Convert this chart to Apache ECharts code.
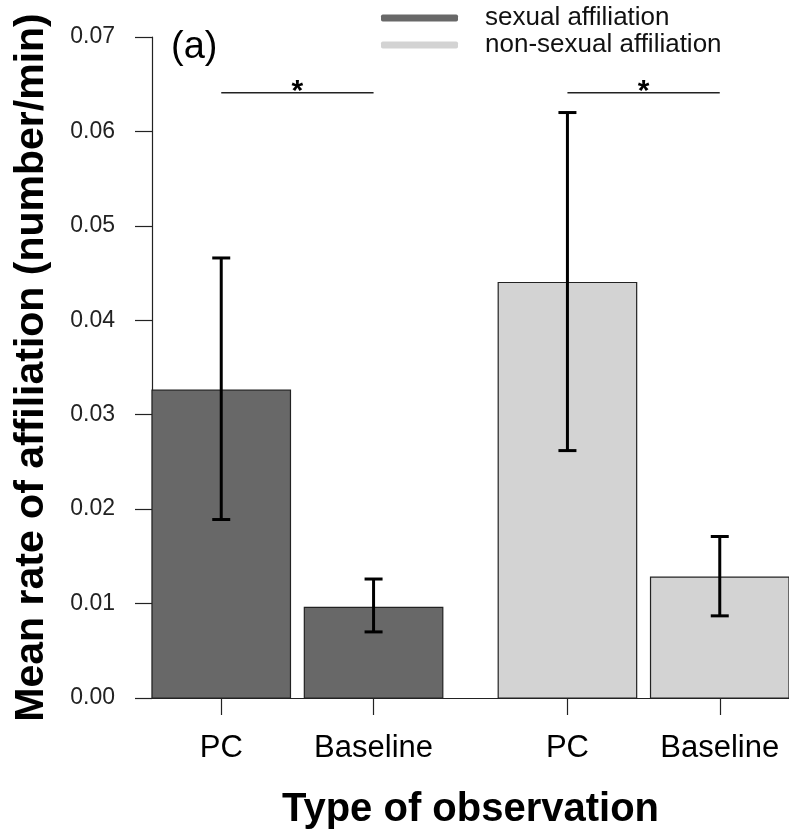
<!DOCTYPE html>
<html>
<head>
<meta charset="utf-8">
<script src="https://cdn.jsdelivr.net/npm/echarts@6/dist/echarts.min.js"></script>
<style>
  html, body { margin: 0; padding: 0; background: #fff; }
  #chart { width: 789px; height: 835px; }
</style>
</head>
<body>
<div id="chart"></div>
<script>
// bar data
const categories = ['PC', 'Baseline', 'PC', 'Baseline'];
const groupOf = ['sexual affiliation', 'sexual affiliation', 'non-sexual affiliation', 'non-sexual affiliation'];
const meanRate = [0.0326, 0.0096, 0.0440, 0.0128];
const errLow = [0.0189, 0.0070, 0.0262, 0.0087];
const errHigh = [0.0466, 0.0126, 0.0620, 0.0171];
const groupNames = ['sexual affiliation', 'non-sexual affiliation'];
const groupColors = ['#686868', '#d3d3d3'];
// gap before each bar, in bar widths (like R barplot "space")
const barSpace = [0, 0.1, 0.4, 0.1];
// significance brackets: pairs of bar indexes
const sigPairs = [[0, 1], [2, 3]];
const sigLevel = 0.0641;

// bar centres on the x scale
const barCenter = [];
let acc = 0;
for (let i = 0; i < categories.length; i++) {
    acc += barSpace[i];
    barCenter.push(acc + 0.5);
    acc += 1;
}
const xMax = acc;

function labelFor(v) {
    for (let i = 0; i < barCenter.length; i++) {
        if (Math.abs(barCenter[i] - v) < 1e-6) return categories[i];
    }
    return '';
}

// draws one bar with its error bar
function renderBar(params, api) {
    const cx = api.value(0), mean = api.value(1), lo = api.value(2), hi = api.value(3);
    const w = api.size([1, 0])[0];
    const top = api.coord([cx, mean]);
    const base = api.coord([cx, 0]);
    const pLo = api.coord([cx, lo]);
    const pHi = api.coord([cx, hi]);
    const cap = 9;
    const errStyle = { stroke: '#000', lineWidth: 3 };
    return {
        type: 'group',
        children: [
            {
                type: 'rect',
                shape: { x: top[0] - w / 2, y: top[1], width: w, height: base[1] - top[1] },
                style: { fill: api.visual('color'), stroke: '#222', lineWidth: 1.2 }
            },
            { type: 'line', shape: { x1: pLo[0], y1: pLo[1], x2: pHi[0], y2: pHi[1] }, style: errStyle },
            { type: 'line', shape: { x1: pHi[0] - cap, y1: pHi[1], x2: pHi[0] + cap, y2: pHi[1] }, style: errStyle },
            { type: 'line', shape: { x1: pLo[0] - cap, y1: pLo[1], x2: pLo[0] + cap, y2: pLo[1] }, style: errStyle }
        ]
    };
}

// significance line + asterisk
function renderSig(params, api) {
    const a = api.coord([api.value(0), api.value(2)]);
    const b = api.coord([api.value(1), api.value(2)]);
    return {
        type: 'group',
        children: [
            { type: 'line', shape: { x1: a[0], y1: a[1], x2: b[0], y2: b[1] }, style: { stroke: '#222', lineWidth: 1.5 } },
            {
                type: 'text',
                x: (a[0] + b[0]) / 2, y: a[1] - 16,
                style: { text: '*', fontSize: 30, fontWeight: 'bold', fontFamily: 'Liberation Sans', fill: '#000', align: 'center', verticalAlign: 'top' }
            }
        ]
    };
}

const series = groupNames.map(function (g, gi) {
    const data = [];
    for (let i = 0; i < categories.length; i++) {
        if (groupOf[i] === g) data.push([barCenter[i], meanRate[i], errLow[i], errHigh[i]]);
    }
    return {
        name: g,
        type: 'custom',
        renderItem: renderBar,
        itemStyle: { color: groupColors[gi] },
        encode: { x: 0, y: [1, 2, 3] },
        data: data
    };
});
series.push({
    type: 'custom',
    renderItem: renderSig,
    encode: { x: [0, 1], y: 2 },
    data: sigPairs.map(function (p) { return [barCenter[p[0]], barCenter[p[1]], sigLevel]; }),
    z: 5
});

const chart = echarts.init(document.getElementById('chart'), null, { renderer: 'canvas' });
chart.setOption({
    animation: false,
    backgroundColor: '#fff',
    textStyle: { fontFamily: 'Liberation Sans' },
    grid: { left: 152, right: 0, top: 37, bottom: 137 },
    legend: {
        orient: 'vertical',
        left: 376,
        top: 0,
        itemWidth: 77,
        itemHeight: 7,
        itemGap: 1,
        icon: 'roundRect',
        selectedMode: false,
        textStyle: { fontSize: 26, color: '#111', padding: [0, 0, 0, 22], lineHeight: 26 },
        data: groupNames.map(function (g, gi) {
            return { name: g, itemStyle: { color: groupColors[gi], borderWidth: 0 } };
        })
    },
    graphic: [{
        type: 'text',
        left: 171,
        top: 29,
        style: { text: '(a)', fontSize: 38, fontFamily: 'Liberation Sans', fill: '#000' }
    }],
    xAxis: {
        type: 'value',
        min: 0,
        max: xMax,
        name: 'Type of observation',
        nameLocation: 'middle',
        nameGap: 92,
        nameTextStyle: { fontSize: 40, fontWeight: 'bold', color: '#000' },
        splitLine: { show: false },
        axisLine: { show: true, lineStyle: { color: '#222', width: 1.2 } },
        axisTick: { show: true, length: 17, customValues: barCenter, lineStyle: { color: '#222', width: 1.2 } },
        axisLabel: { customValues: barCenter, formatter: labelFor, fontSize: 31, color: '#000', margin: 35 }
    },
    yAxis: {
        type: 'value',
        min: 0,
        max: 0.07,
        interval: 0.01,
        name: 'Mean rate of affiliation (number/min)',
        nameLocation: 'middle',
        nameGap: 100,
        nameTextStyle: { fontSize: 41, fontWeight: 'bold', color: '#000' },
        splitLine: { show: false },
        axisLine: { show: true, lineStyle: { color: '#222', width: 1.2 } },
        axisTick: { show: true, length: 17, lineStyle: { color: '#222', width: 1.2 } },
        axisLabel: { formatter: function (v) { return v.toFixed(2); }, fontSize: 23, color: '#222', margin: 37 }
    },
    series: series
});
</script>
</body>
</html>
